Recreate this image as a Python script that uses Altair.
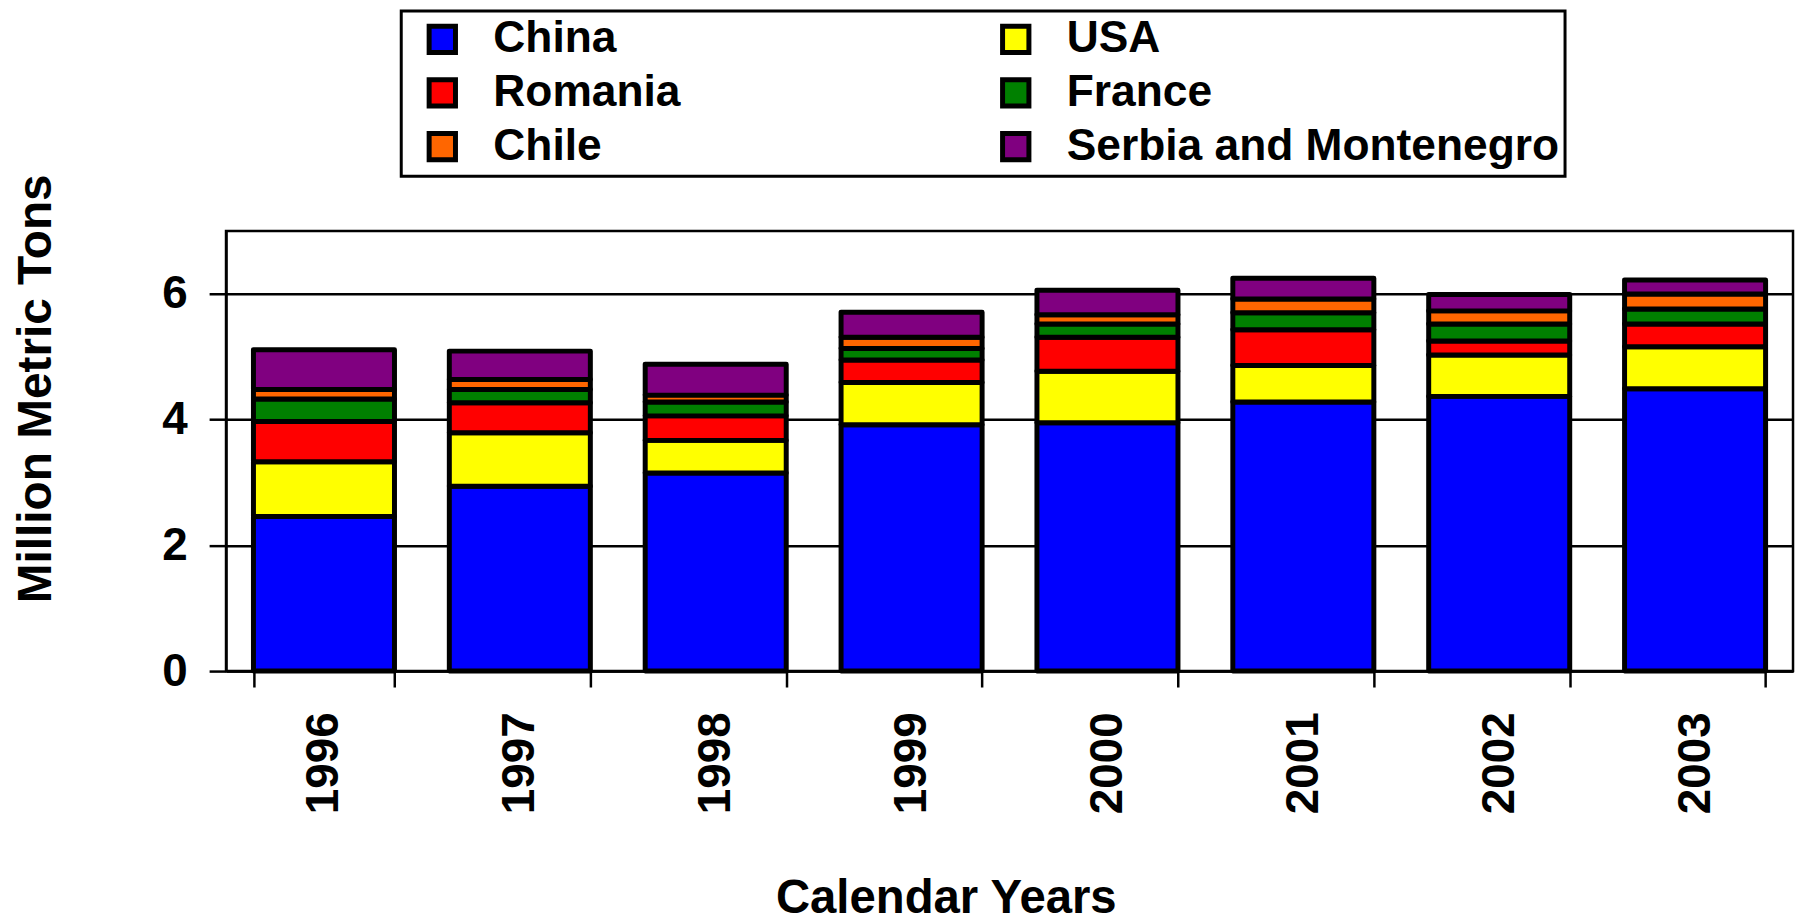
import altair as alt
import pandas as pd

years = ["1996", "1997", "1998", "1999", "2000", "2001", "2002", "2003"]
# stacking order, bottom to top
countries = ["China", "USA", "Romania", "France", "Chile", "Serbia and Montenegro"]
colors = ["#0000FF", "#FFFF00", "#FF0000", "#008000", "#FF6600", "#800080"]
# legend order (two columns, filled column by column)
legend_order = ["China", "Romania", "Chile", "USA", "France", "Serbia and Montenegro"]

china = [2.46, 2.94, 3.15, 3.92, 3.95, 4.28, 4.37, 4.49]
usa = [0.87, 0.85, 0.52, 0.67, 0.82, 0.58, 0.66, 0.67]
romania = [0.64, 0.48, 0.39, 0.36, 0.54, 0.57, 0.22, 0.36]
france = [0.36, 0.21, 0.22, 0.18, 0.21, 0.27, 0.27, 0.24]
chile = [0.15, 0.16, 0.11, 0.18, 0.15, 0.22, 0.21, 0.24]
serbia = [0.63, 0.45, 0.49, 0.40, 0.39, 0.33, 0.26, 0.22]

series = [china, usa, romania, france, chile, serbia]
color_of = dict(zip(countries, colors))
rows = []
for ci, (name, vals) in enumerate(zip(countries, series)):
    for y, v in zip(years, vals):
        rows.append({"Year": y, "Country": name, "Value": v, "idx": ci})
df = pd.DataFrame(rows)

FONT = "Liberation Sans"

chart = alt.Chart(df).mark_bar(stroke="black", strokeWidth=5, strokeJoin="round").encode(
    x=alt.X("Year:N", sort=years,
            scale=alt.Scale(paddingInner=0.28, paddingOuter=0.14),
            axis=alt.Axis(title="Calendar Years", labelAngle=270, tickBand="extent",
                          tickSize=16, tickWidth=2.5, tickColor="black",
                          domainColor="black", domainWidth=2.5,
                          labelFont=FONT, labelFontSize=46, labelFontWeight="bold",
                          labelColor="black", labelPadding=25, grid=False,
                          titleFont=FONT, titleFontSize=47.5, titleFontWeight="bold",
                          titleColor="black", titleX=723, titleY=242,
                          titleBaseline="alphabetic", titleAlign="center")),
    y=alt.Y("Value:Q", stack="zero",
            scale=alt.Scale(domain=[0, 7], nice=False),
            axis=alt.Axis(title="Million Metric Tons", values=[0, 2, 4, 6],
                          tickSize=17, tickWidth=2.5, tickColor="black",
                          domainColor="black", domainWidth=2.5,
                          gridColor="black", gridWidth=2.5,
                          labelFont=FONT, labelFontSize=46, labelFontWeight="bold",
                          labelColor="black", labelPadding=22,
                          titleFont=FONT, titleFontSize=48, titleFontWeight="bold",
                          titleColor="black", titleAngle=270, titleX=-176, titleY=158,
                          titleBaseline="alphabetic", titleAlign="center")),
    color=alt.Color("Country:N",
                    scale=alt.Scale(domain=legend_order,
                                    range=[color_of[c] for c in legend_order]),
                    title=None,
                    legend=alt.Legend(orient="none", legendX=176, legendY=-221,
                                      columns=2, columnPadding=301, rowPadding=7,
                                      padding=6, strokeColor="black",
                                      symbolType="square", symbolSize=700,
                                      symbolStrokeColor="black", symbolStrokeWidth=5,
                                      symbolOpacity=1, symbolOffset=13,
                                      labelFont=FONT, labelFontSize=44.5,
                                      labelFontWeight="bold", labelColor="black",
                                      labelOffset=29, labelLimit=800)),
    order=alt.Order("idx:Q", sort="ascending"),
).properties(
    width=1574, height=442,
    autosize=alt.AutoSizeParams(type="none"),
    padding={"left": 219, "top": 222, "right": 4, "bottom": 252},
).configure_view(stroke="black", strokeWidth=2.5
).configure_legend(strokeWidth=3)

chart.save("out.html", embed_options={"renderer": "svg", "actions": False})
